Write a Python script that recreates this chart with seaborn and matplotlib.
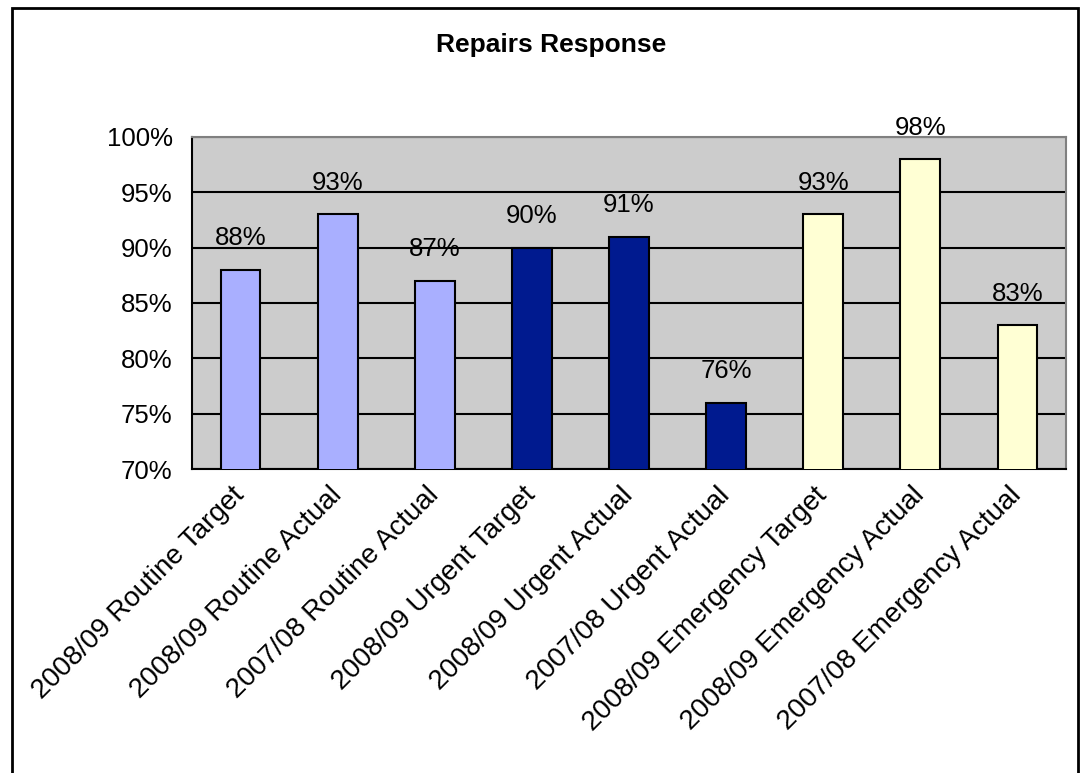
import matplotlib
matplotlib.use("Agg")
import matplotlib.pyplot as plt
import matplotlib.transforms as mtransforms
import seaborn as sns
import pandas as pd
import numpy as np
from matplotlib.patches import Rectangle

categories = ["2008/09 Routine Target", "2008/09 Routine Actual", "2007/08 Routine Actual",
              "2008/09 Urgent Target", "2008/09 Urgent Actual", "2007/08 Urgent Actual",
              "2008/09 Emergency Target", "2008/09 Emergency Actual", "2007/08 Emergency Actual"]
values = [88, 93, 87, 90, 91, 76, 93, 98, 83]
groups = ["Routine"] * 3 + ["Urgent"] * 3 + ["Emergency"] * 3
palette = {"Routine": "#A9AFFF", "Urgent": "#001A8F", "Emergency": "#FFFFD4"}
yticks = [70, 75, 80, 85, 90, 95, 100]

sns.set_style("white")
plt.rcParams['font.family'] = ['Liberation Sans', 'DejaVu Sans']
plt.rcParams['text.color'] = 'black'
plt.rcParams['xtick.color'] = 'black'
plt.rcParams['ytick.color'] = 'black'
plt.rcParams['xtick.labelcolor'] = 'black'
plt.rcParams['ytick.labelcolor'] = 'black'

df = pd.DataFrame({"cat": categories, "val": values, "grp": groups})

fig = plt.figure(figsize=(10.8, 7.73), dpi=100)
ax = fig.add_axes([192/1080, 1 - 469/773, (1066 - 192)/1080, (469 - 137)/773])
ax.set_facecolor("#CCCCCC")

sns.barplot(data=df, x="cat", y="val", hue="grp", palette=palette, dodge=False,
            saturation=1, width=0.41, edgecolor="black", linewidth=1.5,
            legend=False, ax=ax, zorder=3)

ax.set_ylim(70, 100)
ax.set_xlim(-0.5, len(categories) - 0.5)
ax.set_yticks(yticks)
ax.set_yticklabels([f"{v}%" for v in yticks], fontsize=18.5)
ax.yaxis.grid(True, color="black", linewidth=1.5, zorder=1)
ax.set_axisbelow(True)

ax.set_xticks(range(len(categories)))
ax.set_xticklabels(categories, rotation=45, ha="right", va="center",
                   rotation_mode="anchor", fontsize=20)
ax.tick_params(axis="x", length=0, pad=16)
ax.set_xticks(np.arange(-0.5, len(categories)), minor=True)
ax.tick_params(axis="x", which="minor", length=5, width=1.5, direction="out", color="black")
ax.tick_params(axis="y", length=5, width=1.5, direction="out", color="black", pad=9)
ax.set_xlabel("")
ax.set_ylabel("")

for s in ["left", "bottom"]:
    ax.spines[s].set_color("black")
    ax.spines[s].set_linewidth(1.5)
for s in ["top", "right"]:
    ax.spines[s].set_color("#808080")
    ax.spines[s].set_linewidth(1.5)

for i, v in enumerate(values):
    ax.annotate(f"{v}%", (i, v), xytext=(0, 14), textcoords="offset points",
                ha="center", va="bottom", fontsize=18.5)

fig.text(551/1080, 1 - 45/773, "Repairs Response", ha="center", va="center",
         fontsize=19, fontweight="bold")

fig.patches.append(Rectangle((12/1080, -0.01), (1078 - 12)/1080, 1 - 8/773 + 0.01,
                             transform=fig.transFigure, fill=False, edgecolor="black",
                             linewidth=2, zorder=10))

fig.savefig("out.png", dpi=100)
